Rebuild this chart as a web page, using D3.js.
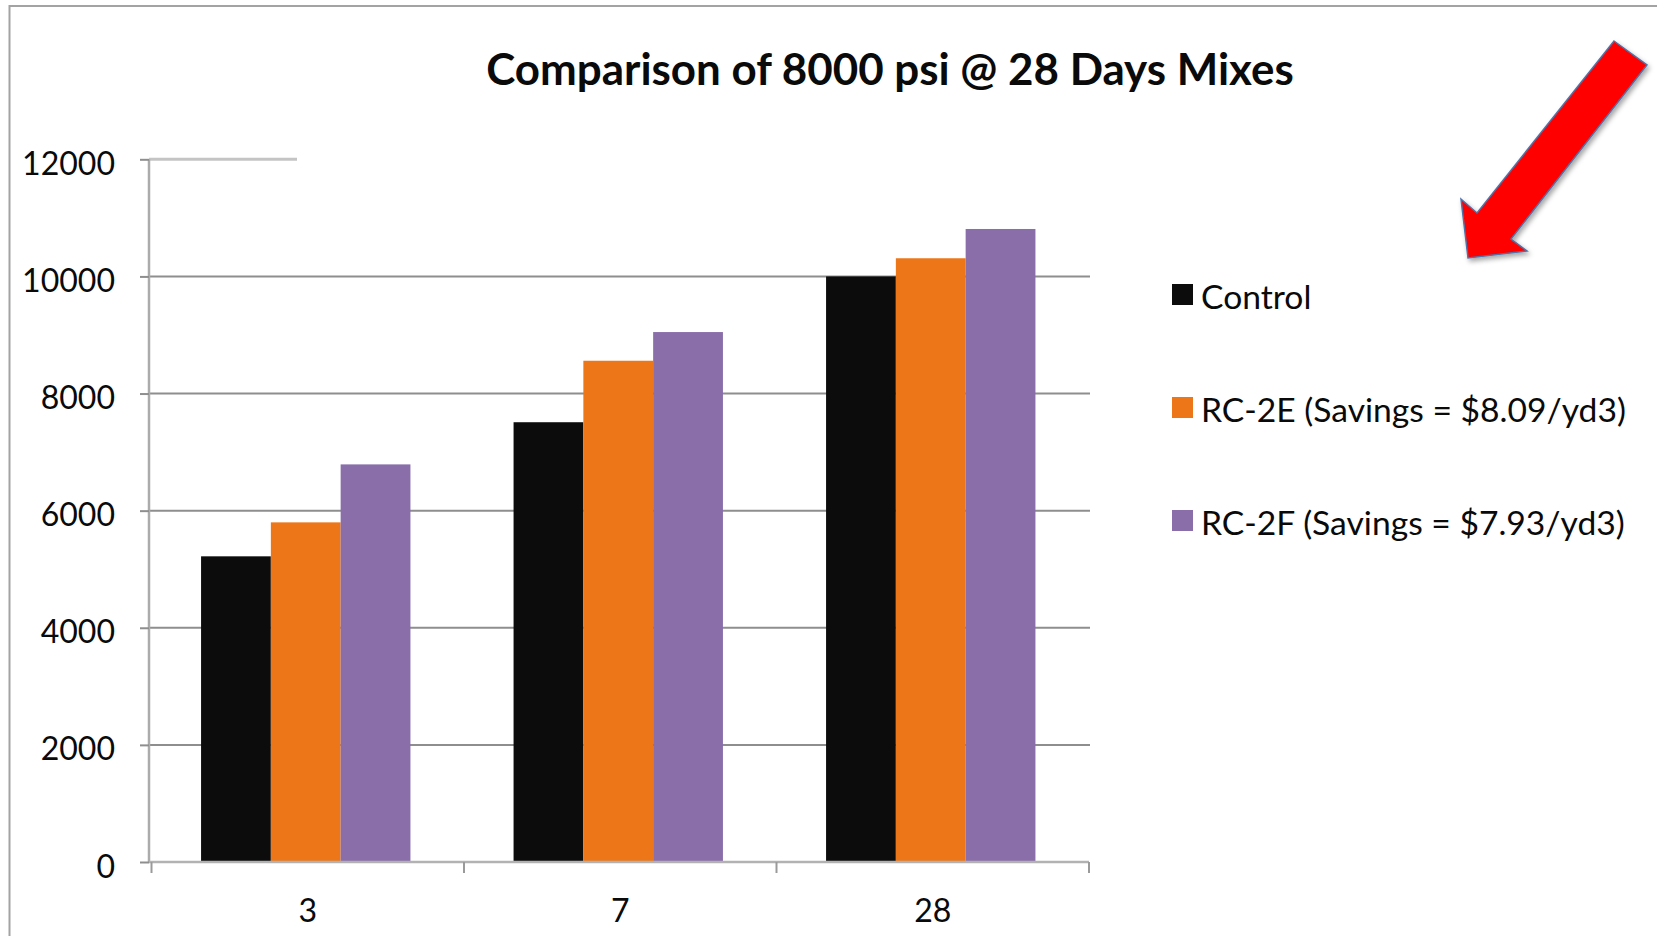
<!DOCTYPE html>
<html>
<head>
<meta charset="utf-8">
<script src="https://cdn.jsdelivr.net/npm/d3@7"></script>
<style>
  html, body { margin: 0; padding: 0; background: #ffffff; }
  svg { display: block; }
  text { font-family: Lato, "Open Sans", "Noto Sans", sans-serif; fill: #0a0a0a; }
</style>
</head>
<body>
<svg id="chart" width="1657" height="936"></svg>
<script>
// ---- data ----
const title = "Comparison of 8000 psi @ 28 Days Mixes";
const categories = ["3", "7", "28"];
const seriesNames = ["Control", "RC-2E (Savings = $8.09/yd3)", "RC-2F (Savings = $7.93/yd3)"];
const controlValues = [5220, 7510, 10000];
const rc2eValues = [5800, 8560, 10310];
const rc2fValues = [6790, 9050, 10810];
const yTickValues = [0, 2000, 4000, 6000, 8000, 10000, 12000];
const seriesColors = ["#0c0c0c", "#ec7618", "#8a6eaa"];

const seriesValues = [controlValues, rc2eValues, rc2fValues];
const table = categories.map((c, i) => ({
  category: c,
  values: seriesNames.map((s, j) => ({ series: s, idx: j, value: seriesValues[j][i] }))
}));

// ---- layout ----
const svg = d3.select("#chart");
const plot = { left: 151.5, right: 1089, top: 159.3, bottom: 862 };

const y = d3.scaleLinear().domain([0, 12000]).range([plot.bottom, plot.top]);
const x = d3.scaleBand().domain(categories).range([plot.left, plot.right])
  .paddingInner(0.33).paddingOuter(0.165);
const xInner = d3.scaleBand().domain(d3.range(seriesNames.length)).range([0, x.bandwidth()]);
const xEdges = d3.scaleLinear().domain([0, categories.length]).range([plot.left, plot.right]);

function fitSize(sel, targetWidth) {
  sel.style("font-size", "100px");
  const w = sel.node().getComputedTextLength();
  return 100 * targetWidth / w;
}

// frame border
svg.append("path")
  .attr("d", "M9.5,936 L9.5,6 L1657,6")
  .attr("fill", "none").attr("stroke", "#a3a3a3").attr("stroke-width", 2);

// gridlines
svg.append("g").selectAll("line").data(yTickValues.filter(v => v > 0)).join("line")
  .attr("x1", 149).attr("x2", d => d === 12000 ? 297 : 1090)
  .attr("y1", d => y(d)).attr("y2", d => y(d))
  .attr("stroke", d => d === 12000 ? "#c4c4c4" : "#8e8e8e")
  .attr("stroke-width", d => d === 12000 ? 3 : 2);

// bars
const groups = svg.append("g").selectAll("g").data(table).join("g")
  .attr("transform", d => `translate(${x(d.category) - 2},0)`);
groups.selectAll("rect").data(d => d.values).join("rect")
  .attr("x", d => xInner(d.idx))
  .attr("width", xInner.bandwidth())
  .attr("y", d => y(d.value))
  .attr("height", d => y(0) - y(d.value))
  .attr("fill", d => seriesColors[d.idx]);

// y axis
const yAxis = svg.append("g").attr("transform", `translate(149,0)`)
  .call(d3.axisLeft(y).tickValues(yTickValues).tickSize(9).tickPadding(25).tickFormat(d3.format("d")));
yAxis.select(".domain").attr("stroke", "#ababab").attr("stroke-width", 2.5)
  .attr("d", `M0,${plot.bottom}V${plot.top}`);
yAxis.selectAll(".tick line").attr("stroke", "#8e8e8e").attr("stroke-width", 2);
const yLabels = yAxis.selectAll(".tick text").attr("fill", "#0a0a0a").attr("dy", "0.47em");
const tickSize = fitSize(yAxis.selectAll(".tick text").filter(d => d === 12000), 93);
yLabels.style("font-size", tickSize + "px");

// x axis line + boundary ticks
const xAxisG = svg.append("g");
xAxisG.append("line")
  .attr("x1", 149).attr("x2", plot.right).attr("y1", plot.bottom).attr("y2", plot.bottom)
  .attr("stroke", "#b2b2b2").attr("stroke-width", 2.5);
xAxisG.selectAll("line.edge").data(d3.range(categories.length + 1)).join("line")
  .attr("class", "edge")
  .attr("x1", d => xEdges(d)).attr("x2", d => xEdges(d))
  .attr("y1", plot.bottom).attr("y2", plot.bottom + 11)
  .attr("stroke", "#9a9a9a").attr("stroke-width", 2);

// x labels
const xAxis = svg.append("g").attr("transform", `translate(0,${plot.bottom})`)
  .call(d3.axisBottom(x).tickSize(0).tickPadding(0));
xAxis.select(".domain").remove();
xAxis.selectAll(".tick text").attr("dy", null).attr("y", 60)
  .attr("fill", "#0a0a0a").style("font-size", tickSize + "px");

// title
const t = svg.append("text").attr("x", 890).attr("y", 85)
  .attr("text-anchor", "middle").attr("font-weight", 700).text(title);
t.style("font-size", fitSize(t, 808) + "px");

// legend
const legend = svg.append("g");
const items = legend.selectAll("g").data(seriesNames).join("g")
  .attr("transform", (d, i) => `translate(1172,${284 + i * 113})`);
items.append("rect").attr("width", 21).attr("height", 21)
  .attr("fill", (d, i) => seriesColors[i]);
const legTexts = items.append("text").attr("x", 29).attr("y", 25).text(d => d);
const legSize = fitSize(legTexts.filter((d, i) => i === 1), 425);
legTexts.style("font-size", legSize + "px");

// red arrow annotation
const defs = svg.append("defs");
const f = defs.append("filter").attr("id", "shadow").attr("x", "-20%").attr("y", "-20%")
  .attr("width", "140%").attr("height", "140%");
f.append("feDropShadow").attr("dx", 2).attr("dy", 3).attr("stdDeviation", 2.5)
  .attr("flood-color", "#000").attr("flood-opacity", 0.35);
const arrowPts = [[1614, 41], [1647, 65], [1511, 239], [1527, 251], [1468, 258], [1461, 199], [1477, 213]];
svg.append("path")
  .attr("d", d3.line()(arrowPts) + "Z")
  .attr("fill", "#ff0000").attr("stroke", "#4f73a8").attr("stroke-width", 1.5)
  .attr("stroke-linejoin", "miter")
  .attr("filter", "url(#shadow)");
</script>
</body>
</html>
